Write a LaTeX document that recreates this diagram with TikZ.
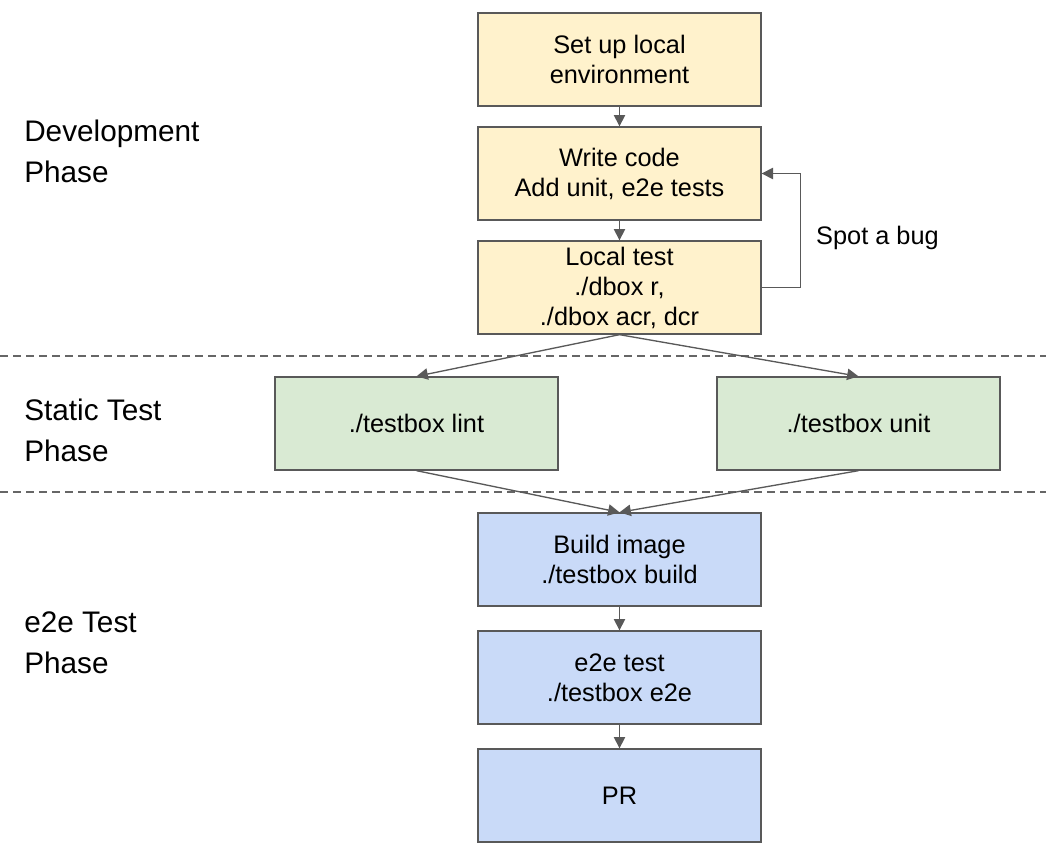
\documentclass[tikz,border=0pt]{standalone}
\usepackage{fontspec}
\setmainfont{Liberation Sans}
\usetikzlibrary{arrows.meta,positioning}
\definecolor{devfill}{HTML}{FFF2CC}
\definecolor{statfill}{HTML}{D9EAD3}
\definecolor{e2efill}{HTML}{C9DAF8}
\definecolor{edgegray}{HTML}{595959}
\definecolor{dashgray}{HTML}{666666}
\tikzset{
  stepbox/.style={draw=edgegray, line width=1pt, minimum width=212.25pt, minimum height=69.75pt,
    inner sep=0pt, align=center, font=\fontsize{19}{22.5}\selectfont},
  devbox/.style={stepbox, fill=devfill},
  statbox/.style={stepbox, fill=statfill},
  e2ebox/.style={stepbox, fill=e2efill},
  phaselabel/.style={anchor=west, align=left, inner sep=0pt, font=\fontsize{22.3}{30.75}\selectfont},
  conn/.style={draw=edgegray, line width=1pt, -{Triangle[length=8.5pt,width=8.5pt]}},
  sep/.style={draw=dashgray, line width=0.9pt, dash pattern=on 6pt off 3.75pt}
}
\begin{document}
\begin{tikzpicture}[x=0.75pt,y=-0.75pt]
\path[use as bounding box] (0,0) rectangle (1046,856);
% phase labels
\node[phaselabel] (devlab) at (24,151.5) {Development\\Phase};
\node[phaselabel] (statlab) at (24,430) {Static Test\\Phase};
\node[phaselabel] (e2elab) at (24,642.5) {e2e Test\\Phase};
% separators
\coordinate (s1a) at (0,356); \coordinate (s1b) at (1046,356);
\coordinate (s2a) at (0,492); \coordinate (s2b) at (1046,492);
\draw[sep] (s1a) -- (s1b);
\draw[sep] (s2a) -- (s2b);
% boxes
\node[devbox] (setup) at (619.5,59.5) {Set up local\\environment};
\node[devbox] (write) at (619.5,173.5) {Write code\\Add unit, e2e tests};
\node[devbox] (local) at (619.5,287.5) {Local test\\./dbox r,\\./dbox acr, dcr};
\node[statbox] (lint) at (416.5,423.5) {./testbox lint};
\node[statbox] (unit) at (858.5,423.5) {./testbox unit};
\node[e2ebox] (build) at (619.5,559.5) {Build image\\./testbox build};
\node[e2ebox] (e2e) at (619.5,677.5) {e2e test\\./testbox e2e};
\node[e2ebox] (pr) at (619.5,795.5) {PR};
% connectors
\draw[conn] (setup) -- (write);
\draw[conn] (write) -- (local);
\draw[conn] (local.east) -- ++(39,0) |- (write.east);
\node[font=\fontsize{19}{22.5}\selectfont, inner sep=0pt] (bug) at (877.5,238) {Spot a bug};
\draw[conn] (local.south) -- (lint.north);
\draw[conn] (local.south) -- (unit.north);
\draw[conn] (lint.south) -- (build.north);
\draw[conn] (unit.south) -- (build.north);
\draw[conn] (build) -- (e2e);
\draw[conn] (e2e) -- (pr);
\end{tikzpicture}
\end{document}
